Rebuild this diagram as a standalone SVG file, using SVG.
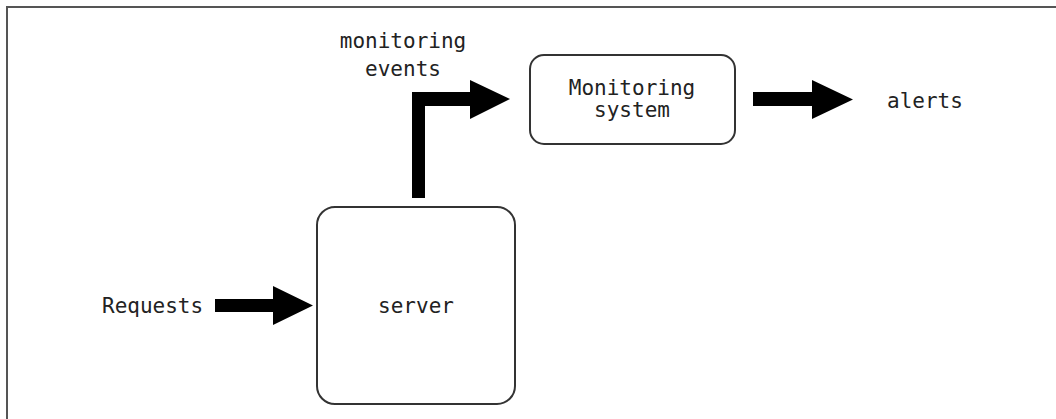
<svg xmlns="http://www.w3.org/2000/svg" width="1056" height="419" viewBox="0 0 1056 419">
<style>
.frame{stroke:#555;stroke-width:2;fill:none}
.box{fill:#fff;stroke:#333;stroke-width:2}
.arrow{fill:#000;stroke:none}
text{font-family:"DejaVu Sans Mono","Liberation Mono",monospace;font-size:21px;fill:#222}
.c{text-anchor:middle}
</style>
<rect width="1056" height="419" fill="#fff"/>
<path class="frame" d="M7,419 L7,7 L1056,7"/>
<g id="connectors">
  <path class="arrow" d="M215,299 L273,299 L273,286 L313,305.5 L273,325 L273,312 L215,312 Z"/>
  <path class="arrow" d="M412,198 L412,92 L470,92 L470,80 L510,99 L470,119 L470,106 L425,106 L425,198 Z"/>
  <path class="arrow" d="M753,92 L812,92 L812,80 L853,99.5 L812,119 L812,106 L753,106 Z"/>
</g>
<g id="requests-label"><text x="102" y="313">Requests</text></g>
<g id="events-label"><text class="c" x="403" y="48">monitoring</text><text class="c" x="403" y="76">events</text></g>
<g id="server"><rect class="box" x="317" y="207" width="198" height="197" rx="18"/><text class="c" x="416" y="313">server</text></g>
<g id="monitoring-system"><rect class="box" x="530" y="55" width="205" height="89" rx="14"/><text class="c" x="632" y="95">Monitoring</text><text class="c" x="632" y="117">system</text></g>
<g id="alerts-label"><text x="887" y="108">alerts</text></g>
</svg>
